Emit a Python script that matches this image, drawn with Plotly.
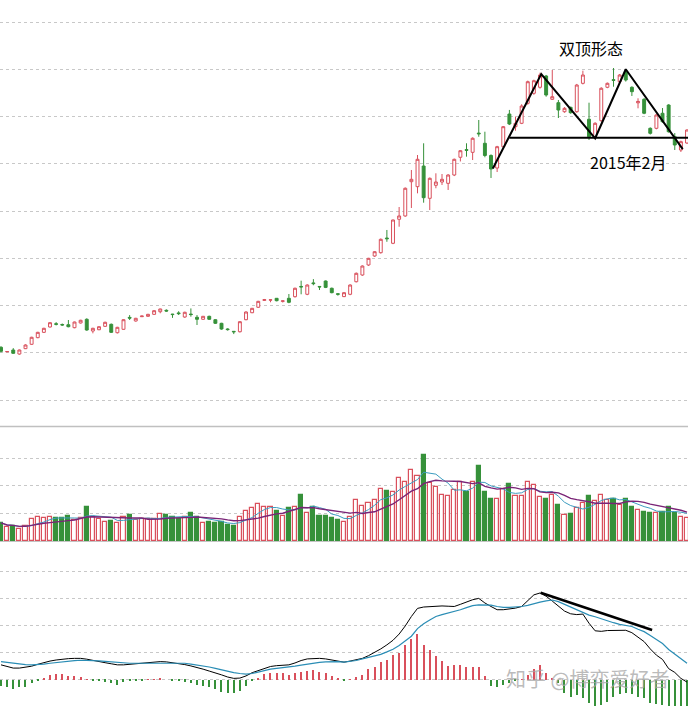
import plotly.graph_objects as go
import pandas as pd

# ---------------- data ----------------
opens = [21.17, 20.22, 20.60, 19.75, 20.88, 21.81, 23.21, 24.34, 25.47, 26.15,
         26.0, 25.95, 25.32, 26.32, 27.10, 24.62, 24.89, 25.61, 26.04, 24.26,
         24.98, 27.5, 26.74, 27.65, 27.73, 28.15, 28.70, 29.0, 28.2, 28.45,
         27.58, 28.2, 27.52, 27.10, 27.73, 27.01, 26.25, 25.05, 24.55, 24.47,
         27.01, 28.49, 29.64, 31.1, 31.15, 31.54, 30.9, 31.54, 31.88, 34.05,
         32.39, 34.8, 34.05, 35.20, 33.66, 32.5, 31.9, 32.39, 35.05, 36.47,
         38.59, 40.49, 41.19, 44.3, 43.18, 48.26, 48.96, 56.21, 55.16, 59.53,
         52.70, 55.45, 56.15, 55.87, 57.63, 61.38, 63.0, 62.43, 66.5, 64.34,
         61.76, 59.11, 63.62, 70.53, 67.85, 68.57, 72.80, 74.92, 76.19, 78.58,
         73.65, 72.93, 71.02, 71.95, 71.02, 77.03, 69.42, 65.73, 69.12, 76.19,
         77.8, 77.37, 79.49, 76.19, 72.9, 73.65, 67.51, 67.51, 70.69, 72.44,
         65.73, 62.92, 64.40]
highs = [21.4, 20.35, 21.0, 20.7, 21.8, 23.4, 24.45, 25.3, 26.5, 26.5,
         26.2, 26.95, 26.6, 27.0, 27.3, 25.3, 25.6, 26.6, 26.2, 25.5,
         27.1, 27.99, 27.4, 27.85, 28.25, 29.0, 29.35, 29.2, 28.25, 28.8,
         28.7, 29.4, 27.99, 27.8, 27.85, 27.1, 26.35, 25.2, 24.6, 26.7,
         28.8, 29.5, 31.0, 31.4, 31.3, 31.6, 31.05, 32.45, 33.8, 35.27,
         34.5, 35.6, 34.1, 35.3, 33.8, 32.6, 32.8, 34.5, 37.0, 38.5,
         40.1, 41.5, 44.2, 46.0, 48.2, 50.86, 55.0, 58.69, 61.86, 64.34,
         57.1, 57.99, 57.84, 57.8, 61.1, 62.9, 64.34, 65.6, 69.27, 66.79,
         62.0, 63.8, 68.0, 71.4, 70.0, 72.6, 77.6, 77.8, 79.28, 78.8,
         79.85, 73.5, 72.0, 72.1, 76.9, 79.70, 72.93, 68.8, 76.2, 77.2,
         80.27, 79.0, 80.0, 76.4, 73.86, 73.9, 67.7, 70.5, 71.8, 72.6,
         66.5, 64.9, 67.3]
lows = [20.1, 20.15, 19.8, 19.6, 20.8, 21.7, 23.1, 24.2, 25.35, 25.8,
        25.7, 25.4, 25.2, 26.2, 24.68, 24.13, 24.8, 25.5, 24.2, 24.1,
        24.9, 26.95, 26.6, 27.6, 27.65, 28.05, 28.37, 28.7, 27.4, 28.0,
        27.4, 27.65, 25.89, 27.0, 27.0, 26.1, 24.9, 24.7, 23.97, 24.3,
        26.9, 28.4, 29.5, 31.0, 30.7, 30.9, 30.65, 30.5, 31.7, 32.39,
        32.2, 34.3, 33.29, 33.7, 32.6, 32.1, 31.8, 32.2, 34.9, 36.3,
        38.4, 40.3, 41.0, 43.5, 43.0, 46.69, 48.8, 50.65, 53.75, 51.77,
        50.22, 54.82, 55.52, 54.46, 57.4, 60.5, 61.51, 60.8, 65.73, 61.38,
        57.0, 58.26, 63.4, 68.2, 67.0, 68.4, 72.5, 74.6, 75.9, 74.2,
        73.5, 69.69, 70.8, 70.6, 70.8, 76.8, 65.04, 65.2, 68.9, 76.0,
        76.31, 77.2, 77.4, 74.35, 71.74, 70.5, 66.2, 67.3, 68.7, 66.6,
        62.92, 62.5, 64.2]
closes = [20.32, 20.28, 19.90, 20.60, 21.66, 23.29, 24.34, 25.19, 26.38, 26.05,
          25.9, 25.53, 26.52, 26.89, 24.83, 25.19, 25.53, 26.46, 24.34, 25.40,
          27.01, 27.35, 27.31, 27.78, 28.15, 28.92, 29.28, 28.85, 28.1, 28.3,
          28.58, 28.1, 27.10, 27.73, 27.10, 26.25, 25.04, 24.92, 24.45, 26.59,
          28.64, 29.42, 30.90, 31.25, 31.22, 31.03, 31.0, 30.69, 33.66, 33.95,
          34.35, 34.65, 33.95, 33.85, 32.73, 32.4, 32.73, 34.35, 36.83, 38.37,
          40.00, 41.40, 44.02, 44.15, 48.11, 48.96, 54.82, 56.72, 60.95, 52.83,
          56.93, 56.15, 56.72, 57.63, 60.95, 62.77, 62.85, 65.40, 66.35, 61.76,
          58.90, 63.62, 67.85, 68.42, 68.57, 72.23, 77.37, 77.58, 78.79, 74.56,
          74.20, 71.38, 71.74, 70.81, 76.67, 78.79, 65.73, 68.57, 75.98, 77.03,
          77.65, 78.79, 77.73, 75.26, 73.2, 70.69, 66.45, 70.33, 68.91, 66.79,
          63.98, 64.68, 67.15]
volume = [0.66, 0.50, 0.54, 0.42, 0.54, 0.79, 0.86, 0.82, 0.86, 0.82,
          0.82, 0.91, 0.76, 0.82, 1.22, 0.88, 0.79, 0.70, 0.72, 0.64,
          0.88, 0.94, 0.76, 0.79, 0.79, 0.79, 0.97, 0.94, 0.86, 0.81,
          0.86, 1.00, 0.86, 0.64, 0.70, 0.66, 0.70, 0.57, 0.54, 0.86,
          1.10, 1.18, 1.34, 1.22, 1.22, 1.10, 0.91, 1.18, 1.22, 1.67,
          1.03, 1.22, 0.91, 0.91, 0.82, 0.76, 0.70, 0.86, 1.49, 1.27,
          1.37, 1.49, 1.87, 1.82, 1.79, 2.27, 2.14, 2.57, 2.36, 3.12,
          2.09, 1.97, 1.67, 1.63, 1.85, 2.15, 1.79, 2.15, 2.72, 1.79,
          1.53, 1.53, 1.87, 2.07, 1.63, 1.63, 2.14, 2.03, 1.58, 1.53,
          1.67, 1.30, 0.94, 0.98, 1.18, 1.39, 1.63, 1.46, 1.67, 1.49,
          1.53, 1.30, 1.53, 1.22, 1.12, 1.06, 1.00, 1.03, 1.06, 1.22,
          1.03, 0.88, 0.83]
dif = [0.56, 0.50, 0.44, 0.44, 0.47, 0.51, 0.58, 0.65, 0.70, 0.74,
       0.77, 0.79, 0.80, 0.80, 0.77, 0.72, 0.68, 0.64, 0.60, 0.56,
       0.56, 0.58, 0.60, 0.62, 0.65, 0.67, 0.68, 0.67, 0.64, 0.62,
       0.57, 0.52, 0.47, 0.40, 0.33, 0.27, 0.19, 0.11, 0.06, 0.07,
       0.15, 0.27, 0.35, 0.43, 0.50, 0.53, 0.55, 0.56, 0.63, 0.72,
       0.78, 0.80, 0.80, 0.78, 0.74, 0.70, 0.66, 0.70, 0.75, 0.80,
       0.90, 1.02, 1.15, 1.30, 1.47, 1.70, 2.00, 2.35, 2.65, 2.70,
       2.72, 2.73, 2.74, 2.73, 2.72, 2.80, 2.90, 2.97, 3.02, 2.85,
       2.72, 2.60, 2.60, 2.62, 2.66, 2.72, 2.95, 3.15, 3.22, 3.10,
       2.92, 2.72, 2.55, 2.45, 2.42, 2.44, 2.10, 1.82, 1.80, 1.83,
       1.84, 1.85, 1.84, 1.75, 1.58, 1.42, 1.15, 0.92, 0.76, 0.42,
       0.28, 0.06, -0.08]
dea = [0.68, 0.65, 0.62, 0.59, 0.57, 0.56, 0.57, 0.59, 0.62, 0.65,
       0.68, 0.70, 0.72, 0.73, 0.73, 0.72, 0.71, 0.69, 0.67, 0.65,
       0.63, 0.62, 0.62, 0.62, 0.63, 0.64, 0.64, 0.64, 0.64, 0.63,
       0.62, 0.59, 0.56, 0.52, 0.48, 0.43, 0.37, 0.32, 0.27, 0.24,
       0.22, 0.24, 0.30, 0.36, 0.40, 0.43, 0.45, 0.47, 0.51, 0.55,
       0.59, 0.62, 0.65, 0.67, 0.68, 0.68, 0.66, 0.68, 0.72, 0.78,
       0.84, 0.88, 0.95, 1.04, 1.14, 1.28, 1.45, 1.62, 1.90, 2.08,
       2.22, 2.35, 2.42, 2.48, 2.52, 2.60, 2.68, 2.75, 2.78, 2.78,
       2.77, 2.72, 2.69, 2.69, 2.70, 2.72, 2.76, 2.83, 2.88, 2.93,
       2.96, 2.90, 2.80, 2.68, 2.58, 2.48, 2.40, 2.34, 2.26, 2.18,
       2.12, 2.06, 2.02, 1.98, 1.88, 1.79, 1.65, 1.50, 1.35, 1.13,
       0.95, 0.78, 0.62]
macd_hist = [-0.22, -0.27, -0.35, -0.27, -0.25, -0.12, -0.02, 0.06, 0.19, 0.22,
             0.22, 0.15, 0.15, 0.12, 0.02, -0.01, -0.04, -0.06, -0.10, -0.17,
             -0.06, -0.03, -0.03, -0.03, 0.01, 0.03, 0.04, 0.0, -0.03, -0.05,
             -0.07, -0.12, -0.17, -0.22, -0.27, -0.35, -0.43, -0.47, -0.49, -0.40,
             -0.22, -0.02, 0.06, 0.22, 0.27, 0.27, 0.25, 0.19, 0.27, 0.31,
             0.35, 0.37, 0.31, 0.25, 0.15, 0.06, -0.03, 0.03, 0.10, 0.19,
             0.40, 0.49, 0.68, 0.74, 0.93, 1.01, 1.30, 1.51, 1.70, 1.30,
             1.11, 0.89, 0.72, 0.52, 0.56, 0.56, 0.49, 0.47, 0.47, 0.15,
             -0.22, -0.25, -0.20, -0.12, -0.05, 0.02, 0.20, 0.40, 0.56, 0.27,
             0.05, -0.12, -0.49, -0.62, -0.56, -0.68, -0.86, -0.96, -0.93, -0.80,
             -0.62, -0.52, -0.47, -0.52, -0.62, -0.68, -0.84, -0.89, -0.93, -1.0,
             -1.2, -1.3, -1.4]

# pattern annotations (candle index, price)
pattern_x = [80.3, 88.2, 97.0, 102.0, 111.3]
pattern_y = [59.0, 79.0, 65.4, 80.0, 63.1]
neck_x = [83.0, 113.0]
neck_y = [65.5, 65.5]
div_x = [88.1, 106.3]
div_y = [3.23, 1.85]

# ---------------- styling ----------------
RED = "#d9505c"
GREEN = "#36913a"
GRID = "#c8c8c8"
idx = list(range(len(closes)))
up = [c >= o for o, c in zip(opens, closes)]

vol_s = pd.Series(volume)
ma5 = vol_s.rolling(5, min_periods=1).mean().tolist()
ma10 = vol_s.rolling(10, min_periods=1).mean().tolist()

fig = go.Figure()

fig.add_trace(go.Candlestick(
    x=idx, open=opens, high=highs, low=lows, close=closes,
    increasing=dict(line=dict(color=RED, width=1), fillcolor="white"),
    decreasing=dict(line=dict(color=GREEN, width=1), fillcolor=GREEN),
    xaxis="x", yaxis="y", hoverinfo="skip", showlegend=False))

fig.add_trace(go.Scatter(x=pattern_x, y=pattern_y, mode="lines",
                         line=dict(color="black", width=2),
                         xaxis="x", yaxis="y", hoverinfo="skip", showlegend=False))
fig.add_trace(go.Scatter(x=neck_x, y=neck_y, mode="lines",
                         line=dict(color="black", width=2),
                         xaxis="x", yaxis="y", hoverinfo="skip", showlegend=False))

fig.add_trace(go.Bar(
    x=idx, y=volume, width=0.68,
    marker=dict(color=["white" if u else GREEN for u in up],
                line=dict(color=[RED if u else GREEN for u in up], width=1.2)),
    xaxis="x2", yaxis="y2", hoverinfo="skip", showlegend=False))
fig.add_trace(go.Scatter(x=idx, y=ma5, mode="lines",
                         line=dict(color="#3b9cc0", width=1),
                         xaxis="x2", yaxis="y2", hoverinfo="skip", showlegend=False))
fig.add_trace(go.Scatter(x=idx, y=ma10, mode="lines",
                         line=dict(color="#7a2477", width=1.4),
                         xaxis="x2", yaxis="y2", hoverinfo="skip", showlegend=False))

fig.add_trace(go.Bar(
    x=idx, y=macd_hist, width=0.18,
    marker=dict(color=[RED if h >= 0 else GREEN for h in macd_hist], line=dict(width=0)),
    xaxis="x3", yaxis="y3", hoverinfo="skip", showlegend=False))
fig.add_trace(go.Scatter(x=idx, y=dif, mode="lines",
                         line=dict(color="black", width=1),
                         xaxis="x3", yaxis="y3", hoverinfo="skip", showlegend=False))
fig.add_trace(go.Scatter(x=idx, y=dea, mode="lines",
                         line=dict(color="#2a8db5", width=1.2),
                         xaxis="x3", yaxis="y3", hoverinfo="skip", showlegend=False))
fig.add_trace(go.Scatter(x=div_x, y=div_y, mode="lines",
                         line=dict(color="black", width=2.5),
                         xaxis="x3", yaxis="y3", hoverinfo="skip", showlegend=False))

xr = [-0.163, 112.16]
xcommon = dict(range=xr, showticklabels=False, showgrid=False, zeroline=False,
               showline=False, ticks="", fixedrange=True)
H = 706.0
fig.update_layout(
    width=688, height=706,
    margin=dict(l=0, r=0, t=0, b=0),
    paper_bgcolor="white", plot_bgcolor="white",
    boxgap=0.32,
    bargap=0,
    showlegend=False,
    xaxis=dict(**xcommon, anchor="y", rangeslider=dict(visible=False)),
    xaxis2=dict(**xcommon, anchor="y2"),
    xaxis3=dict(**xcommon, anchor="y3"),
    yaxis=dict(domain=[1 - 426 / H, 1], range=[4.52, 94.66], tick0=10, dtick=10,
               showgrid=True, gridcolor=GRID, griddash="dot", gridwidth=1,
               showticklabels=False, zeroline=False, ticks=""),
    yaxis2=dict(domain=[1 - 542 / H, 1 - 427 / H], range=[-0.036, 4.13],
                tickvals=[1, 2, 3], showgrid=True, gridcolor=GRID, griddash="dot",
                showticklabels=False, zeroline=True, zerolinecolor="#c4c4c4",
                zerolinewidth=1, ticks=""),
    yaxis3=dict(domain=[0, 1 - 543 / H], range=[-0.963, 5.07],
                tickvals=[0, 1, 2, 3, 4], showgrid=True, gridcolor=GRID, griddash="dot",
                showticklabels=False, zeroline=False, ticks=""),
    font=dict(family="Noto Sans CJK SC, Liberation Sans, sans-serif"),
)

fig.add_shape(type="line", xref="paper", yref="paper", x0=0, x1=1,
              y0=1 - 426.5 / H, y1=1 - 426.5 / H,
              line=dict(color="#c0c0c0", width=1.5))

fig.add_annotation(text="双顶形态", xref="paper", yref="paper",
                   x=590.7 / 688, y=1 - 48.3 / H, showarrow=False,
                   font=dict(size=16, color="black",
                             family="Noto Sans CJK SC"),
                   xanchor="center", yanchor="middle")
fig.add_annotation(text="2015年2月", xref="paper", yref="paper",
                   x=627.7 / 688, y=1 - 162.3 / H, showarrow=False,
                   font=dict(size=16, color="black",
                             family="Noto Sans CJK SC"),
                   xanchor="center", yanchor="middle")
fig.add_annotation(text="知乎 @博弈爱好者", xref="paper", yref="paper",
                   x=587 / 688, y=1 - 678 / H, showarrow=False,
                   font=dict(size=20, color="rgba(165,165,165,0.75)",
                             family="Noto Sans CJK SC"),
                   xanchor="center", yanchor="middle")

fig.write_html("out.html")
